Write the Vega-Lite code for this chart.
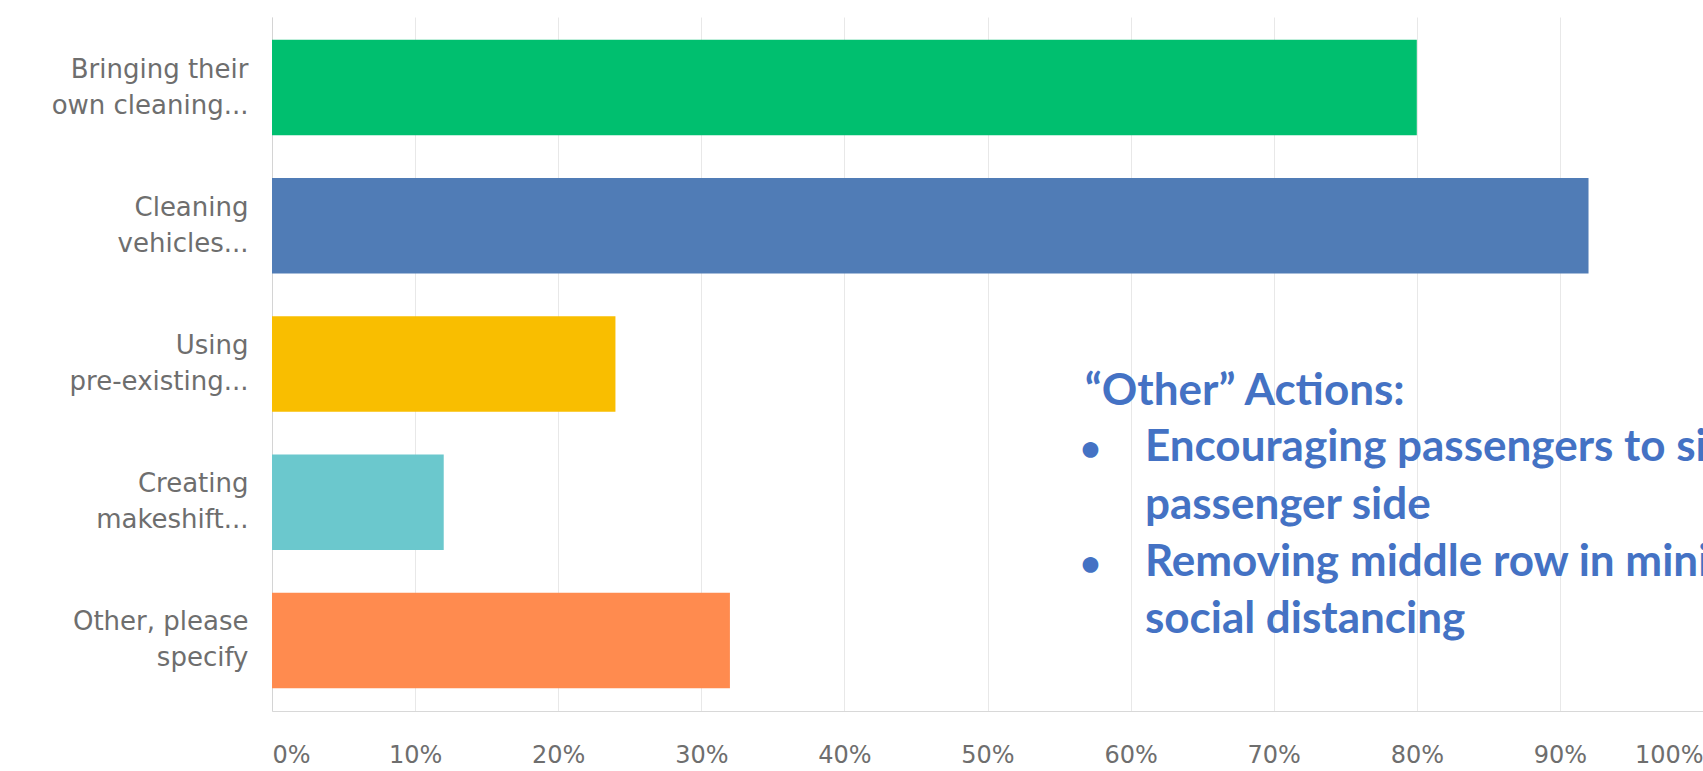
{
  "$schema": "https://vega.github.io/schema/vega-lite/v6.json",
  "width": 1431,
  "height": 694,
  "autosize": {"type": "none"},
  "padding": {"left": 272, "top": 17, "right": 0, "bottom": 60},
  "background": "white",
  "config": {"view": {"stroke": null}},
  "layer": [
    {
      "data": {"values": [
        {"option": "Bringing their\nown cleaning...", "pct": 80},
        {"option": "Cleaning\nvehicles...", "pct": 92},
        {"option": "Using\npre-existing...", "pct": 24},
        {"option": "Creating\nmakeshift...", "pct": 12},
        {"option": "Other, please\nspecify", "pct": 32}
      ]},
      "mark": {"type": "bar"},
      "encoding": {
        "y": {
          "field": "option", "type": "nominal", "sort": null,
          "scale": {"paddingInner": 0.31, "paddingOuter": 0.165},
          "axis": {
            "title": null,
            "labelExpr": "split(datum.label, '\\n')",
            "labelFont": "DejaVu Sans",
            "labelFontSize": 26,
            "labelColor": "#6e6e6e",
            "labelLineHeight": 36,
            "labelOffset": -18,
            "labelLimit": 300,
            "ticks": false,
            "labelPadding": 24,
            "domainColor": "#d4d4d4",
            "grid": false
          }
        },
        "x": {
          "field": "pct", "type": "quantitative",
          "scale": {"domain": [0, 100]},
          "axis": {
            "title": null,
            "values": [0, 10, 20, 30, 40, 50, 60, 70, 80, 90, 100],
            "labelExpr": "datum.value + '%'",
            "labelFlush": true,
            "grid": true,
            "gridColor": "#e8e8e8",
            "ticks": false,
            "domainColor": "#d8d8d8",
            "labelFont": "DejaVu Sans",
            "labelFontSize": 24,
            "labelColor": "#6e6e6e",
            "labelPadding": 32
          }
        },
        "color": {
          "field": "option", "type": "nominal",
          "scale": {
            "domain": ["Bringing their\nown cleaning...", "Cleaning\nvehicles...", "Using\npre-existing...", "Creating\nmakeshift...", "Other, please\nspecify"],
            "range": ["#00BF6F", "#507CB6", "#F9BE00", "#6BC8CD", "#FF8B4F"]
          },
          "legend": null
        }
      }
    },
    {
      "data": {"values": [
        {"text": "“Other” Actions:", "at_pct": 56.8, "level": 44.1},
        {"text": "Encouraging passengers to sit on the", "at_pct": 61.0, "level": 36.0},
        {"text": "passenger side", "at_pct": 61.0, "level": 27.7},
        {"text": "Removing middle row in minivans for", "at_pct": 61.0, "level": 19.5},
        {"text": "social distancing", "at_pct": 61.0, "level": 11.2}
      ]},
      "mark": {"type": "text", "align": "left", "baseline": "alphabetic", "font": "Lato", "fontWeight": "bold", "fontSize": 44, "color": "#4472C4"},
      "encoding": {
        "x": {"field": "at_pct", "type": "quantitative"},
        "y": {"field": "level", "type": "quantitative", "scale": {"domain": [0, 100]}, "axis": null},
        "text": {"field": "text"}
      }
    },
    {
      "data": {"values": [
        {"text": "•", "at_pct": 57.2, "level": 36.0},
        {"text": "•", "at_pct": 57.2, "level": 19.5}
      ]},
      "mark": {"type": "text", "align": "center", "baseline": "alphabetic", "font": "Lato", "fontWeight": "bold", "fontSize": 36, "color": "#4472C4"},
      "encoding": {
        "x": {"field": "at_pct", "type": "quantitative"},
        "y": {"field": "level", "type": "quantitative", "scale": {"domain": [0, 100]}, "axis": null},
        "text": {"field": "text"}
      }
    }
  ],
  "resolve": {"scale": {"y": "independent"}, "axis": {"y": "independent"}}
}
